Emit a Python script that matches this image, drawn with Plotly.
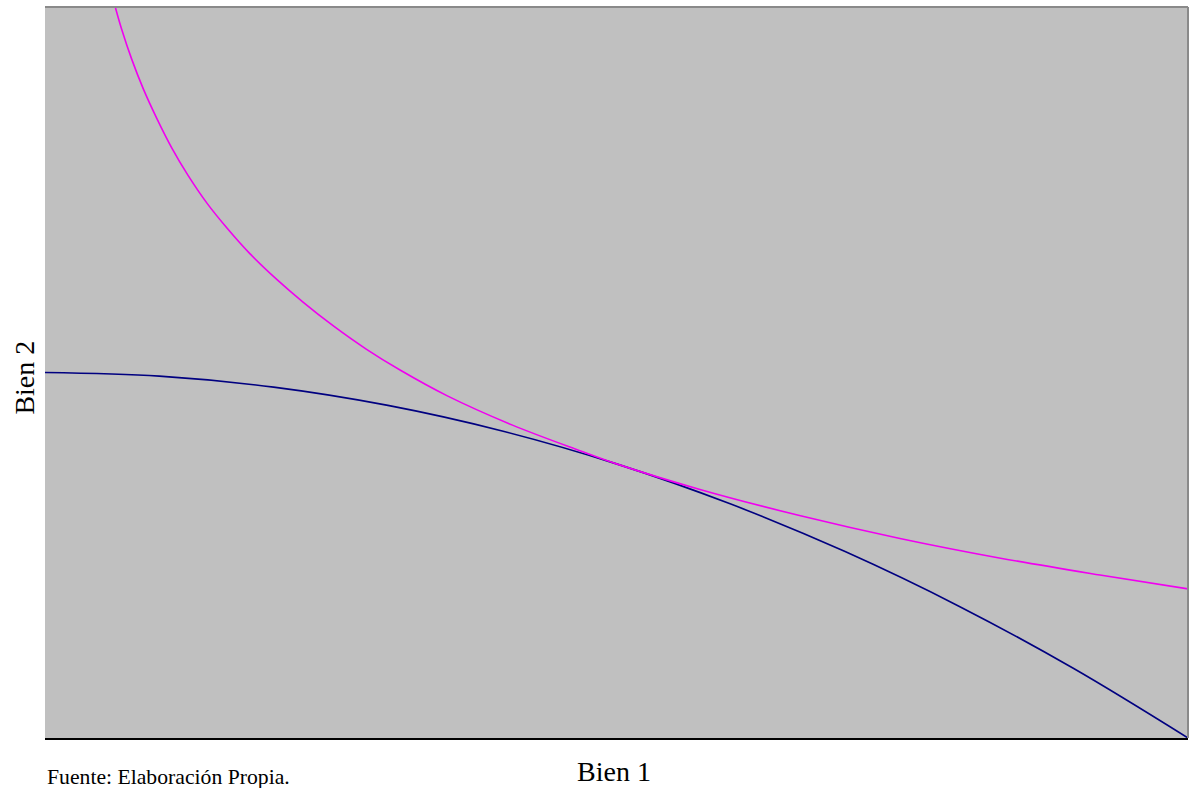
import plotly.graph_objects as go

# Production possibility frontier (navy)
ppf_x = [0, 1, 2, 3, 4, 5, 6, 7, 8, 9, 10]
ppf_y = [5.0, 4.95, 4.8, 4.55, 4.2, 3.75, 3.2, 2.55, 1.8, 0.95, 0.0]

# Indifference curve (magenta)
ic_x = [0.60, 0.62, 0.67, 0.76, 0.86, 0.98, 1.11, 1.25, 1.42, 1.59, 1.79, 2.03, 2.26,
        2.52, 2.81, 3.11, 3.52, 4.09, 4.68, 5.0, 5.73, 6.61, 7.48, 8.36, 9.23, 10.0]
ic_y = [10.09, 9.97, 9.70, 9.28, 8.88, 8.47, 8.07, 7.70, 7.31, 6.98, 6.63, 6.27, 5.96,
        5.64, 5.32, 5.03, 4.68, 4.28, 3.93, 3.75, 3.40, 3.04, 2.73, 2.46, 2.23, 2.04]

x_title = "Bien 1"
y_title = "Bien 2"
source = "Fuente: Elaboración Propia."

fig = go.Figure()
fig.add_trace(go.Scatter(x=ppf_x, y=ppf_y, mode="lines",
                         line=dict(color="#000080", width=1.6, shape="spline", smoothing=1.0),
                         showlegend=False, hoverinfo="skip"))
fig.add_trace(go.Scatter(x=ic_x, y=ic_y, mode="lines",
                         line=dict(color="#F000F0", width=1.6, shape="spline", smoothing=1.0),
                         showlegend=False, hoverinfo="skip"))

fig.update_layout(
    width=1193, height=788,
    margin=dict(l=45, r=5, t=7, b=50),
    paper_bgcolor="white",
    plot_bgcolor="#C0C0C0",
    xaxis=dict(range=[0, 10], showgrid=False, zeroline=False, showticklabels=False,
               ticks="", showline=True, linecolor="black", linewidth=2),
    yaxis=dict(range=[0, 10], showgrid=False, zeroline=False, showticklabels=False,
               ticks="", showline=False),
    font=dict(family="Liberation Serif, Times New Roman, serif", color="black"),
    shapes=[
        dict(type="line", xref="paper", yref="paper", x0=0, x1=1, y0=1, y1=1,
             line=dict(color="#8a8a8a", width=2)),
        dict(type="line", xref="paper", yref="paper", x0=1, x1=1, y0=0, y1=1,
             line=dict(color="#8a8a8a", width=2)),
    ],
    annotations=[
        dict(text=x_title, xref="paper", yref="paper", x=0.4975, y=-0.046,
             xanchor="center", yanchor="middle", showarrow=False,
             font=dict(size=28), borderpad=0),
        dict(text=y_title, xref="paper", yref="paper", x=-0.0175, y=0.493,
             xanchor="center", yanchor="middle", showarrow=False, textangle=-90,
             font=dict(size=28)),
        dict(text=source, xref="paper", yref="paper", x=0.0, y=-0.053,
             xanchor="left", yanchor="middle", showarrow=False,
             font=dict(size=21.7)),
    ],
)

fig.write_html("out.html",
               config={"displayModeBar": False},
               post_script="document.body.style.margin='0px';document.body.style.overflow='hidden';")
